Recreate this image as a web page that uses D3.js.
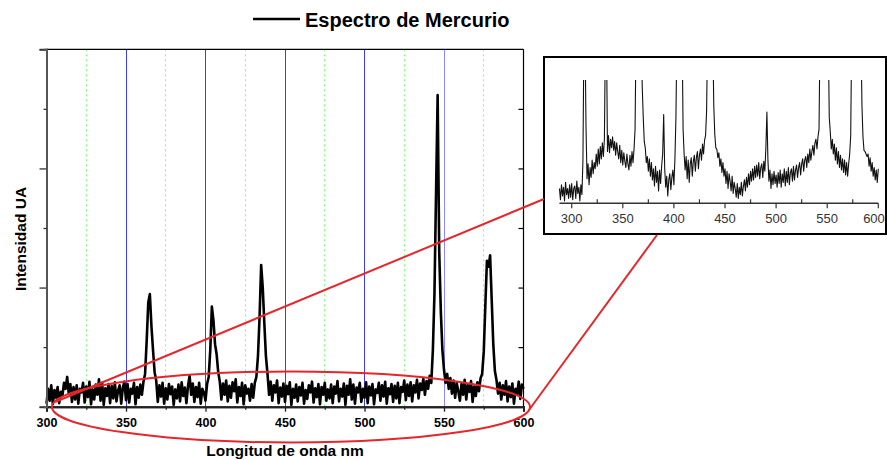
<!DOCTYPE html>
<html>
<head>
<meta charset="utf-8">
<script src="https://cdn.jsdelivr.net/npm/d3@7"></script>
<style>
  body { margin: 0; background: #fff; }
  svg { display: block; }
  text { font-family: "Liberation Sans", Arial, sans-serif; }
</style>
</head>
<body>
<svg id="chart" width="887" height="460"></svg>
<script>
// Main spectrum: one intensity reading per nanometre, starting at 300 nm
const mainStart = 300;
const mainIntensity = [
  0.05,0.30,0.10,0.36,0.04,0.28,0.15,0.33,0.06,0.25,
  0.18,0.40,0.30,0.50,0.22,0.38,0.08,0.33,0.12,0.36,
  0.05,0.30,0.24,0.40,0.07,0.34,0.16,0.42,0.04,0.29,
  0.12,0.37,0.20,0.46,0.10,0.40,0.03,0.31,0.18,0.38,
  0.06,0.35,0.14,0.41,0.09,0.27,0.36,0.05,0.32,0.42,
  0.11,0.38,0.07,0.30,0.22,0.40,0.04,0.33,0.15,0.37,
  0.20,0.42,0.55,1.10,1.75,1.89,1.35,0.95,0.58,0.44,
  0.08,0.36,0.17,0.40,0.05,0.31,0.12,0.38,0.21,0.34,
  0.03,0.29,0.14,0.37,0.09,0.41,0.18,0.32,0.06,0.35,
  0.52,0.20,0.39,0.08,0.33,0.16,0.40,0.05,0.30,0.24,
  0.10,0.38,0.50,0.95,1.68,1.45,1.05,0.88,0.58,0.42,
  0.12,0.39,0.20,0.44,0.09,0.35,0.15,0.41,0.26,0.46,
  0.07,0.33,0.18,0.40,0.04,0.36,0.22,0.30,0.10,0.38,
  0.15,0.40,0.50,0.85,1.50,2.38,2.00,1.40,0.85,0.55,
  0.20,0.42,0.10,0.36,0.24,0.44,0.06,0.32,0.17,0.39,
  0.08,0.35,0.21,0.41,0.03,0.30,0.15,0.37,0.09,0.33,
  0.19,0.40,0.05,0.28,0.13,0.36,0.24,0.42,0.07,0.31,
  0.16,0.38,0.04,0.33,0.20,0.40,0.10,0.29,0.14,0.37,
  0.06,0.34,0.22,0.43,0.09,0.30,0.17,0.39,0.03,0.35,
  0.20,0.46,0.12,0.37,0.05,0.32,0.24,0.40,0.08,0.30,
  0.15,0.41,0.06,0.34,0.19,0.38,0.04,0.29,0.23,0.40,
  0.10,0.36,0.17,0.42,0.05,0.31,0.21,0.38,0.08,0.35,
  0.14,0.40,0.06,0.33,0.25,0.44,0.11,0.37,0.18,0.41,
  0.09,0.36,0.24,0.45,0.14,0.39,0.28,0.47,0.20,0.43,
  0.30,0.52,0.40,0.95,1.90,3.60,5.23,2.60,1.60,0.95,
  0.62,0.40,0.55,0.30,0.48,0.22,0.44,0.15,0.40,0.26,
  0.10,0.38,0.20,0.45,0.12,0.36,0.25,0.43,0.08,0.34,
  0.18,0.41,0.26,0.48,0.55,0.92,1.70,2.45,2.35,2.54,
  1.80,1.05,0.60,0.45,0.22,0.40,0.12,0.36,0.20,0.43,
  0.09,0.34,0.16,0.39,0.05,0.30,0.21,0.42,0.13,0.37,
  0.30
];

// Detail spectrum (zoomed baseline), one reading per nanometre from 288 nm;
// strong lines run off the top of the panel
const insetStart = 288;
const insetIntensity = [
  0.12,0.03,0.15,0.06,0.13,0.02,0.17,0.07,0.12,0.04,0.15,0.05,
  0.16,0.03,0.12,0.14,0.04,0.18,0.08,0.13,0.02,0.15,
  0.07,0.35,1.40,1.40,0.62,0.20,0.32,0.15,0.29,0.21,
  0.35,0.24,0.33,0.28,0.40,0.30,0.44,0.32,0.46,0.36,
  0.49,0.38,0.52,1.40,1.40,0.42,0.55,0.41,0.52,0.45,
  0.54,0.43,0.50,0.39,0.49,0.42,0.36,0.47,0.33,0.43,
  0.31,0.41,0.34,0.29,0.40,0.32,0.27,0.39,0.30,0.42,
  0.33,0.44,0.60,1.40,1.40,1.40,1.40,1.40,1.40,0.95,
  0.70,0.50,0.45,0.33,0.38,0.26,0.36,0.22,0.33,0.19,
  0.28,0.14,0.30,0.17,0.26,0.10,0.27,0.16,0.30,0.40,
  0.72,0.28,0.13,0.22,0.06,0.19,0.24,0.11,0.21,0.27,
  0.15,0.36,0.70,1.40,1.40,1.40,1.40,1.40,1.40,0.60,
  0.40,0.27,0.38,0.20,0.35,0.17,0.32,0.37,0.22,0.34,
  0.39,0.26,0.37,0.42,0.28,0.39,0.44,0.35,0.48,0.40,
  0.51,0.55,0.75,1.40,1.40,1.40,1.40,1.40,1.40,0.80,
  0.56,0.45,0.44,0.37,0.41,0.30,0.36,0.25,0.33,0.22,
  0.28,0.16,0.26,0.12,0.24,0.18,0.10,0.22,0.08,0.17,
  0.12,0.05,0.16,0.04,0.13,0.07,0.17,0.06,0.14,0.19,
  0.10,0.21,0.13,0.24,0.15,0.26,0.18,0.28,0.19,0.30,
  0.21,0.31,0.22,0.33,0.20,0.29,0.32,0.21,0.34,0.26,
  0.45,0.74,0.35,0.18,0.27,0.12,0.24,0.15,0.26,0.16,
  0.23,0.13,0.25,0.16,0.27,0.13,0.24,0.17,0.28,0.14,
  0.26,0.17,0.29,0.15,0.25,0.28,0.18,0.30,0.19,0.27,
  0.31,0.21,0.29,0.33,0.23,0.32,0.36,0.26,0.35,0.38,
  0.29,0.40,0.33,0.44,0.35,0.42,0.47,0.39,0.49,0.52,
  0.44,0.54,0.60,1.40,1.40,1.40,1.40,1.40,1.40,1.40,
  1.40,1.40,0.70,0.58,0.44,0.52,0.40,0.48,0.35,0.45,
  0.32,0.42,0.29,0.39,0.27,0.36,0.25,0.35,0.23,0.33,
  0.22,0.32,0.40,0.55,1.40,1.40,1.40,1.40,1.40,1.40,
  1.40,1.40,1.40,1.40,0.80,0.54,0.43,0.42,0.40,0.38,
  0.40,0.30,0.37,0.26,0.33,0.22,0.29,0.19,0.27,0.17,
  0.28
];

const xTicks = [300, 350, 400, 450, 500, 550, 600];
const xMinorTicks = [325, 375, 425, 475, 525, 575];
const yMajorTicks = [0, 2, 4, 6];
const yMinorTicks = [1, 3, 5];
const blueGrid = [350, 400, 450, 500, 550];
const greenGrid = [325, 375, 425, 475, 525, 575];

const titleText = "Espectro de Mercurio";
const xLabel = "Longitud de onda nm";
const yLabel = "Intensidad UA";

const svg = d3.select("#chart");

// ---------- main plot ----------
const plot = { left: 46.5, right: 523.5, top: 49.3, bottom: 406.7 };
const x = d3.scaleLinear().domain([300, 600]).range([plot.left, plot.right]);
const y = d3.scaleLinear().domain([0, 6]).range([plot.bottom, plot.top]);
// snap 1px lines to pixel centres so they stay crisp
const crisp = v => Math.floor(v) + 0.5;

const mainData = mainIntensity.map((v, i) => ({ nm: mainStart + i, v }));

// vertical reference lines
svg.append("g").selectAll("line").data(greenGrid).join("line")
  .attr("x1", d => crisp(x(d))).attr("x2", d => crisp(x(d)))
  .attr("y1", plot.top).attr("y2", plot.bottom)
  .attr("stroke", "#7dff7d").attr("stroke-width", 1)
  .attr("stroke-dasharray", "2,3");
svg.append("g").selectAll("line").data(blueGrid).join("line")
  .attr("x1", d => crisp(x(d))).attr("x2", d => crisp(x(d)))
  .attr("y1", plot.top).attr("y2", plot.bottom)
  .attr("stroke", d => d === 550 ? "#8a8aff" : "#3c3cf0").attr("stroke-width", 1);

// spectrum trace
svg.append("path").datum(mainData)
  .attr("fill", "none").attr("stroke", "#000").attr("stroke-width", 2.6)
  .attr("stroke-linejoin", "round")
  .attr("d", d3.line().x(d => x(d.nm)).y(d => y(d.v)));

// frame: top and right
svg.append("line").attr("x1", plot.left).attr("x2", plot.right)
  .attr("y1", plot.top).attr("y2", plot.top).attr("stroke", "#000").attr("stroke-width", 1.2);
svg.append("line").attr("x1", plot.right).attr("x2", plot.right)
  .attr("y1", plot.top).attr("y2", plot.bottom).attr("stroke", "#000").attr("stroke-width", 1.2);

// bottom axis
const xAxisG = svg.append("g").attr("transform", `translate(0,${plot.bottom})`);
xAxisG.call(d3.axisBottom(x).tickValues(xTicks).tickSize(5).tickPadding(6).tickFormat(d3.format("d")));
xAxisG.append("g").call(d3.axisBottom(x).tickValues(xMinorTicks).tickSize(3).tickFormat(""));
xAxisG.selectAll(".domain").attr("stroke", "#222").attr("stroke-width", 2);
xAxisG.selectAll(".tick line").attr("stroke", "#222").attr("stroke-width", 1.3);
xAxisG.selectAll(".tick text")
  .attr("font-family", '"Liberation Sans", Arial, sans-serif')
  .attr("font-size", 12.5).attr("font-weight", "bold").attr("fill", "#000");

// left axis (no labels)
const yAxisG = svg.append("g").attr("transform", `translate(${plot.left},0)`);
yAxisG.call(d3.axisLeft(y).tickValues(yMajorTicks).tickSize(7).tickFormat(""));
yAxisG.append("g").call(d3.axisLeft(y).tickValues(yMinorTicks).tickSize(3).tickFormat(""));
yAxisG.selectAll(".domain").attr("stroke", "#555").attr("stroke-width", 2);
yAxisG.selectAll(".tick line").attr("stroke", "#333").attr("stroke-width", 1.3);

// right side inward ticks
const yRightG = svg.append("g").attr("transform", `translate(${plot.right},0)`);
yRightG.call(d3.axisRight(y).tickValues(yMinorTicks.concat(yMajorTicks.slice(1, 3))).tickSize(-5).tickFormat(""));
yRightG.selectAll(".domain").remove();
yRightG.selectAll(".tick line").attr("stroke", "#000").attr("stroke-width", 1.2);

// axis titles
svg.append("text").attr("x", 285).attr("y", 456).attr("text-anchor", "middle")
  .attr("font-size", 15.5).attr("font-weight", "bold").text(xLabel);
svg.append("text").attr("transform", "translate(26,239) rotate(-90)")
  .attr("text-anchor", "middle").attr("font-size", 15.5).attr("font-weight", "bold").text(yLabel);

// title with legend swatch
svg.append("line").attr("x1", 253).attr("x2", 300).attr("y1", 19).attr("y2", 19)
  .attr("stroke", "#000").attr("stroke-width", 2.6);
svg.append("text").attr("x", 305).attr("y", 27).attr("font-size", 20)
  .attr("font-weight", "bold").text(titleText);

// ---------- detail panel ----------
const box = { left: 544, top: 57, right: 886, bottom: 234 };
svg.append("rect").attr("x", box.left).attr("y", box.top)
  .attr("width", box.right - box.left).attr("height", box.bottom - box.top)
  .attr("fill", "#fff").attr("stroke", "#000").attr("stroke-width", 2);

const ix = d3.scaleLinear().domain([300, 600]).range([571.7, 878.3]);
const iy = d3.scaleLinear().domain([0, 1]).range([203.3, 80]);
const insetData = insetIntensity.map((v, i) => ({ nm: insetStart + i, v }));

svg.append("clipPath").attr("id", "inset-clip").append("rect")
  .attr("x", 556).attr("y", iy(1)).attr("width", 330).attr("height", iy(0) - iy(1));

svg.append("path").datum(insetData)
  .attr("clip-path", "url(#inset-clip)")
  .attr("fill", "none").attr("stroke", "#111").attr("stroke-width", 1.1)
  .attr("stroke-linejoin", "round")
  .attr("d", d3.line().x(d => ix(d.nm)).y(d => iy(d.v)));

const insetAxis = svg.append("g").attr("transform", `translate(0,${iy(0)})`);
insetAxis.append("line").attr("x1", ix(insetStart)).attr("x2", ix(600))
  .attr("stroke", "#333").attr("stroke-width", 1.5);
insetAxis.selectAll("line.major").data(xTicks).join("line").attr("class", "major")
  .attr("x1", d => ix(d)).attr("x2", d => ix(d)).attr("y1", 0).attr("y2", 5)
  .attr("stroke", "#333").attr("stroke-width", 1.2);
insetAxis.selectAll("line.minor").data(xMinorTicks).join("line").attr("class", "minor")
  .attr("x1", d => ix(d)).attr("x2", d => ix(d)).attr("y1", 0).attr("y2", -4)
  .attr("stroke", "#333").attr("stroke-width", 1.2);
// the last label is kept inside the panel edge
insetAxis.selectAll("text").data(xTicks).join("text")
  .attr("x", d => Math.min(ix(d), box.right - 12)).attr("y", 19.5).attr("text-anchor", "middle")
  .attr("font-size", 13).attr("fill", "#333").text(d => d);

// ---------- highlight: ellipse around the baseline and connector lines ----------
const red = "#e5262b";
svg.append("ellipse").attr("cx", 291).attr("cy", 407).attr("rx", 239).attr("ry", 35.5)
  .attr("fill", "none").attr("stroke", red).attr("stroke-width", 2);
svg.append("line").attr("x1", 55).attr("y1", 402).attr("x2", box.left).attr("y2", 199)
  .attr("stroke", red).attr("stroke-width", 2);
svg.append("line").attr("x1", 529).attr("y1", 410).attr("x2", 657).attr("y2", box.bottom + 1)
  .attr("stroke", red).attr("stroke-width", 2);
</script>
</body>
</html>
